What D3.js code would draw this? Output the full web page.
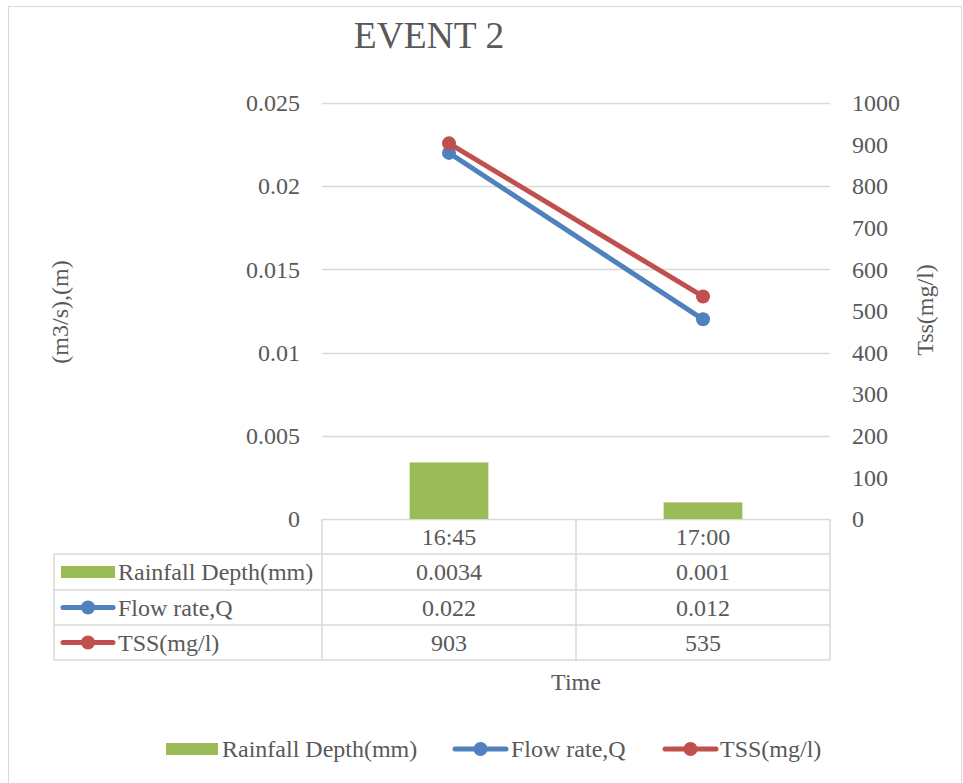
<!DOCTYPE html>
<html>
<head>
<meta charset="utf-8">
<script src="https://cdn.jsdelivr.net/npm/d3@7"></script>
<style>
  html, body { margin: 0; padding: 0; background: #fff; }
  svg text { font-family: "Liberation Serif", "Times New Roman", serif; fill: #595959; }
</style>
</head>
<body>
<svg id="chart" width="963" height="783"></svg>
<script>
// Chart data
const times = ["16:45", "17:00"];
const rainfall = [0.0034, 0.001];
const flow = [0.022, 0.012];
const tss = [903, 535];
const leftTicks = [0, 0.005, 0.01, 0.015, 0.02, 0.025];
const rightTicks = [0, 100, 200, 300, 400, 500, 600, 700, 800, 900, 1000];
const seriesNames = ["Rainfall Depth(mm)", "Flow rate,Q", "TSS(mg/l)"];
const colors = { rain: "#9BBB59", flow: "#4F81BD", tss: "#C0504D" };

const svg = d3.select("#chart");
const grid = "#D9D9D9";
const fs = "24px";

// outer frame
svg.append("rect").attr("x", 8.5).attr("y", 6.5).attr("width", 953).attr("height", 780)
  .attr("fill", "#fff").attr("stroke", grid).attr("stroke-width", 1);

const plot = { left: 322, right: 830, top: 103, bottom: 519 };

const x = d3.scaleBand().domain(times).range([plot.left, plot.right]);
const yL = d3.scaleLinear().domain([0, 0.025]).range([plot.bottom, plot.top]);
const yR = d3.scaleLinear().domain([0, 1000]).range([plot.bottom, plot.top]);

// title
svg.append("text").attr("x", 429).attr("y", 48).attr("text-anchor", "middle")
  .style("font-size", "37.5px").text("EVENT 2");

// gridlines
svg.append("g").selectAll("line").data(leftTicks).join("line")
  .attr("x1", plot.left).attr("x2", plot.right)
  .attr("y1", d => Math.round(yL(d)) + 0.5).attr("y2", d => Math.round(yL(d)) + 0.5)
  .attr("stroke", grid).attr("stroke-width", 1.5);

// left axis
const leftAxis = d3.axisLeft(yL).tickValues(leftTicks).tickSize(0).tickPadding(22)
  .tickFormat(d => String(+d.toFixed(3)));
const gL = svg.append("g").attr("transform", `translate(${plot.left},0)`).call(leftAxis);
gL.select(".domain").remove();
gL.selectAll("text").style("font-size", fs).attr("fill", "#595959");

// right axis
const rightAxis = d3.axisRight(yR).tickValues(rightTicks).tickSize(0).tickPadding(22)
  .tickFormat(d => String(d));
const gR = svg.append("g").attr("transform", `translate(${plot.right},0)`).call(rightAxis);
gR.select(".domain").remove();
gR.selectAll("text").style("font-size", fs).attr("fill", "#595959");

// axis titles
svg.append("text").attr("transform", "translate(68,312) rotate(-90)").attr("text-anchor", "middle")
  .style("font-size", fs).text("(m3/s),(m)");
svg.append("text").attr("transform", "translate(933,310) rotate(-90)").attr("text-anchor", "middle")
  .style("font-size", fs).text("Tss(mg/l)");

// rainfall bars
const barW = x.bandwidth() * 0.31;
svg.append("g").selectAll("rect").data(rainfall).join("rect")
  .attr("x", (d, i) => x(times[i]) + x.bandwidth() / 2 - barW / 2)
  .attr("width", barW)
  .attr("y", d => yL(d)).attr("height", d => plot.bottom - yL(d))
  .attr("fill", colors.rain);

// lines and markers
const cx = i => x(times[i]) + x.bandwidth() / 2;
function drawSeries(vals, scale, color) {
  const line = d3.line().x((d, i) => cx(i)).y(d => scale(d));
  svg.append("path").datum(vals).attr("d", line).attr("fill", "none")
    .attr("stroke", color).attr("stroke-width", 5).attr("stroke-linecap", "round");
  svg.append("g").selectAll("circle").data(vals).join("circle")
    .attr("cx", (d, i) => cx(i)).attr("cy", d => scale(d)).attr("r", 7)
    .attr("fill", color);
}
drawSeries(flow, yL, colors.flow);
drawSeries(tss, yR, colors.tss);

// data table
const tbl = { left: 54, rows: [519, 554, 590, 625, 660] };
const tg = svg.append("g").attr("stroke", grid).attr("stroke-width", 1.5);
tbl.rows.slice(1).forEach(yy => {
  tg.append("line").attr("x1", tbl.left).attr("x2", plot.right).attr("y1", yy).attr("y2", yy);
});
[plot.left, x(times[1]), plot.right].forEach(xx => {
  tg.append("line").attr("x1", xx).attr("x2", xx).attr("y1", plot.bottom).attr("y2", tbl.rows[4]);
});
tg.append("line").attr("x1", tbl.left).attr("x2", tbl.left).attr("y1", tbl.rows[1]).attr("y2", tbl.rows[4]);

const rowMid = i => (tbl.rows[i] + tbl.rows[i + 1]) / 2;
svg.append("g").selectAll("text").data(times).join("text")
  .attr("x", (d, i) => cx(i)).attr("y", rowMid(0)).attr("dy", "0.35em")
  .attr("text-anchor", "middle").style("font-size", fs).text(d => d);

const tableData = [rainfall, flow, tss];
const keyKinds = ["bar", "flow", "tss"];
tableData.forEach((vals, r) => {
  const ym = rowMid(r + 1);
  svg.append("g").selectAll("text").data(vals).join("text")
    .attr("x", (d, i) => cx(i)).attr("y", ym).attr("dy", "0.35em")
    .attr("text-anchor", "middle").style("font-size", fs).text(d => d);
  drawKey(61, ym, keyKinds[r], 54);
  svg.append("text").attr("x", 118).attr("y", ym).attr("dy", "0.35em")
    .style("font-size", fs).text(seriesNames[r]);
});

function drawKey(x0, ym, kind, w) {
  if (kind === "bar") {
    svg.append("rect").attr("x", x0).attr("y", ym - 6).attr("width", w).attr("height", 12)
      .attr("fill", colors.rain);
  } else {
    const c = kind === "flow" ? colors.flow : colors.tss;
    svg.append("line").attr("x1", x0 + 2).attr("x2", x0 + w - 2).attr("y1", ym).attr("y2", ym)
      .attr("stroke", c).attr("stroke-width", 5).attr("stroke-linecap", "round");
    svg.append("circle").attr("cx", x0 + w / 2).attr("cy", ym).attr("r", 7).attr("fill", c);
  }
}

// x axis title
svg.append("text").attr("x", 576).attr("y", 690).attr("text-anchor", "middle")
  .style("font-size", fs).text("Time");

// legend
const legY = 749;
drawKey(166, legY, "bar", 52);
svg.append("text").attr("x", 222).attr("y", legY).attr("dy", "0.35em").style("font-size", fs).text(seriesNames[0]);
drawKey(453, legY, "flow", 55);
svg.append("text").attr("x", 511).attr("y", legY).attr("dy", "0.35em").style("font-size", fs).text(seriesNames[1]);
drawKey(663, legY, "tss", 55);
svg.append("text").attr("x", 720).attr("y", legY).attr("dy", "0.35em").style("font-size", fs).text(seriesNames[2]);
</script>
</body>
</html>
